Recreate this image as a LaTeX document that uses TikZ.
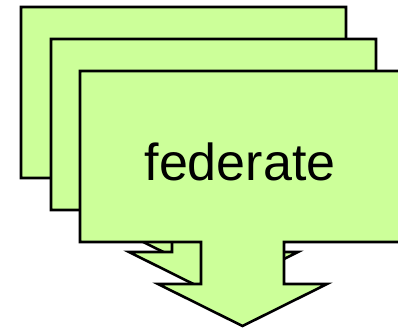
\documentclass[tikz,border=0pt]{standalone}
\usepackage{fontspec}
\setmainfont{Liberation Sans}
\definecolor{calloutgreen}{RGB}{204,255,153}
\tikzset{
  callout/.style={fill=calloutgreen, draw=black, line width=2.6pt, line join=miter},
  labeltext/.style={font=\fontsize{52}{60}\selectfont, inner sep=0pt, anchor=base}
}
% Down-arrow callout: a box with a short arrow hanging below its middle
\newcommand\downcallout[2]{%
  \draw[callout, shift={(#1,#2)}]
    (0,0) -- (325,0) -- (325,171) -- (204,171) -- (204,213) -- (247,213)
    -- (162.5,255) -- (78,213) -- (121,213) -- (121,171) -- (0,171) -- cycle;}
\begin{document}
\begin{tikzpicture}[x=1pt, y=-1pt]
  \useasboundingbox (0,0) rectangle (398,327);
  \clip (0,0) rectangle (398,327);
  \downcallout{21}{7}
  \downcallout{51}{39}
  \downcallout{80}{71}
  \node[labeltext] (label) at (240,180) {federate};
\end{tikzpicture}
\end{document}
